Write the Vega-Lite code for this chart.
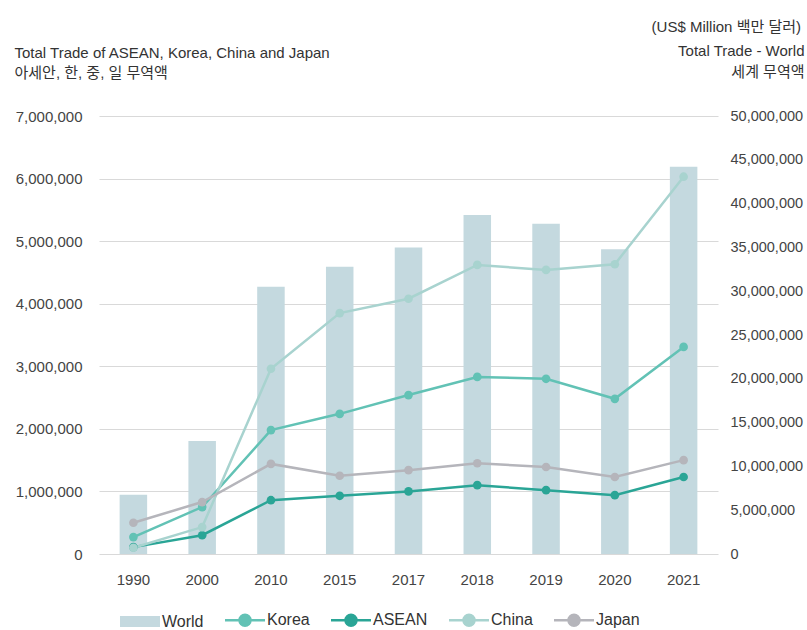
{
  "$schema": "https://vega.github.io/schema/vega-lite/v6.json",
  "width": 619,
  "height": 438,
  "autosize": {"type": "none"},
  "padding": {"left": 99, "top": 116, "right": 89, "bottom": 76},
  "background": "white",
  "config": {
    "font": "Liberation Sans, Noto Sans CJK KR",
    "view": {"stroke": null}
  },
  "title": {
    "text": "(US$ Million 백만 달러)",
    "anchor": "end",
    "frame": "bounds",
    "fontSize": 15,
    "fontWeight": "normal",
    "color": "#333333",
    "offset": 8,
    "dx": -3
  },
  "data": {
    "values": [
      {"year": "1990", "series": "World", "value": 6750000},
      {"year": "2000", "series": "World", "value": 12900000},
      {"year": "2010", "series": "World", "value": 30500000},
      {"year": "2015", "series": "World", "value": 32800000},
      {"year": "2017", "series": "World", "value": 35000000},
      {"year": "2018", "series": "World", "value": 38700000},
      {"year": "2019", "series": "World", "value": 37700000},
      {"year": "2020", "series": "World", "value": 34800000},
      {"year": "2021", "series": "World", "value": 44200000},
      {"year": "1990", "series": "Korea", "value": 270000},
      {"year": "2000", "series": "Korea", "value": 750000},
      {"year": "2010", "series": "Korea", "value": 1980000},
      {"year": "2015", "series": "Korea", "value": 2240000},
      {"year": "2017", "series": "Korea", "value": 2540000},
      {"year": "2018", "series": "Korea", "value": 2830000},
      {"year": "2019", "series": "Korea", "value": 2800000},
      {"year": "2020", "series": "Korea", "value": 2480000},
      {"year": "2021", "series": "Korea", "value": 3310000},
      {"year": "1990", "series": "ASEAN", "value": 110000},
      {"year": "2000", "series": "ASEAN", "value": 300000},
      {"year": "2010", "series": "ASEAN", "value": 860000},
      {"year": "2015", "series": "ASEAN", "value": 930000},
      {"year": "2017", "series": "ASEAN", "value": 1000000},
      {"year": "2018", "series": "ASEAN", "value": 1100000},
      {"year": "2019", "series": "ASEAN", "value": 1020000},
      {"year": "2020", "series": "ASEAN", "value": 940000},
      {"year": "2021", "series": "ASEAN", "value": 1230000},
      {"year": "1990", "series": "China", "value": 100000},
      {"year": "2000", "series": "China", "value": 430000},
      {"year": "2010", "series": "China", "value": 2960000},
      {"year": "2015", "series": "China", "value": 3850000},
      {"year": "2017", "series": "China", "value": 4080000},
      {"year": "2018", "series": "China", "value": 4620000},
      {"year": "2019", "series": "China", "value": 4540000},
      {"year": "2020", "series": "China", "value": 4630000},
      {"year": "2021", "series": "China", "value": 6030000},
      {"year": "1990", "series": "Japan", "value": 500000},
      {"year": "2000", "series": "Japan", "value": 830000},
      {"year": "2010", "series": "Japan", "value": 1440000},
      {"year": "2015", "series": "Japan", "value": 1250000},
      {"year": "2017", "series": "Japan", "value": 1340000},
      {"year": "2018", "series": "Japan", "value": 1450000},
      {"year": "2019", "series": "Japan", "value": 1390000},
      {"year": "2020", "series": "Japan", "value": 1230000},
      {"year": "2021", "series": "Japan", "value": 1500000}
    ]
  },
  "encoding": {
    "x": {
      "field": "year",
      "type": "ordinal",
      "scale": {"paddingInner": 0.6, "paddingOuter": 0.3},
      "axis": {
        "title": null,
        "labelAngle": 0,
        "labelFontSize": 15,
        "labelColor": "#444444",
        "labelPadding": 18,
        "ticks": false,
        "domain": false,
        "grid": false
      }
    },
    "color": {
      "field": "series",
      "type": "nominal",
      "scale": {
        "domain": ["World", "Korea", "ASEAN", "China", "Japan"],
        "range": ["#c4d9df", "#62c2b5", "#2aa596", "#a8d3cf", "#b5b5bb"]
      },
      "legend": {
        "title": null,
        "orient": "none",
        "legendX": 33,
        "legendY": 496,
        "direction": "horizontal",
        "labelFontSize": 16,
        "labelColor": "#333333",
        "symbolSize": 400,
        "labelOffset": 14,
        "columnPadding": 16,
        "encode": {
          "symbols": {
            "update": {
              "shape": {"signal": "datum.value === 'World' ? 'M-2,-0.55H2V0.55H-2Z' : 'M-2,0H2M0.55,0A0.55,0.55,0,1,1,-0.55,0A0.55,0.55,0,1,1,0.55,0Z'"},
              "fill": {"scale": "color", "field": "value"},
              "stroke": {"scale": "color", "field": "value"},
              "strokeWidth": {"signal": "datum.value === 'World' ? 0 : 2.5"},
              "opacity": {"value": 1},
              "fillOpacity": {"value": 1},
              "strokeOpacity": {"value": 1}
            }
          }
        }
      }
    }
  },
  "layer": [
    {
      "transform": [{"filter": "datum.series === 'World'"}],
      "mark": {"type": "bar", "opacity": 1},
      "encoding": {
        "y": {
          "field": "value",
          "type": "quantitative",
          "scale": {"domain": [0, 50000000], "nice": false},
          "axis": {
            "orient": "right",
            "values": [0, 5000000, 10000000, 15000000, 20000000, 25000000, 30000000, 35000000, 40000000, 45000000, 50000000],
            "format": ",d",
            "grid": false,
            "ticks": false,
            "domain": false,
            "labelFontSize": 14.5,
            "labelColor": "#444444",
            "labelPadding": 12,
            "title": ["Total Trade - World", "세계 무역액"],
            "titleAngle": 0,
            "titleAlign": "right",
            "titleBaseline": "alphabetic",
            "titleX": 86,
            "titleY": -61,
            "titleFontSize": 15,
            "titleFontWeight": "normal",
            "titleColor": "#333333",
            "titleLineHeight": 21
          }
        }
      }
    },
    {
      "transform": [{"filter": "datum.series !== 'World'"}],
      "encoding": {
        "y": {
          "field": "value",
          "type": "quantitative",
          "scale": {"domain": [0, 7000000], "nice": false},
          "axis": {
            "orient": "left",
            "values": [0, 1000000, 2000000, 3000000, 4000000, 5000000, 6000000, 7000000],
            "format": ",d",
            "grid": true,
            "gridColor": "#d9d9d9",
            "gridWidth": 1.2,
            "ticks": false,
            "domain": false,
            "labelFontSize": 15,
            "labelColor": "#444444",
            "labelPadding": 17,
            "title": ["Total Trade of ASEAN, Korea, China and Japan", "아세안, 한, 중, 일 무역액"],
            "titleAngle": 0,
            "titleAlign": "left",
            "titleBaseline": "alphabetic",
            "titleX": -85,
            "titleY": -59,
            "titleFontSize": 15,
            "titleFontWeight": "normal",
            "titleColor": "#333333",
            "titleLineHeight": 20
          }
        }
      },
      "layer": [
        {"mark": {"type": "line", "strokeWidth": 2.5}},
        {"mark": {"type": "point", "filled": true, "size": 75, "opacity": 1}}
      ]
    }
  ],
  "resolve": {"scale": {"y": "independent"}}
}
